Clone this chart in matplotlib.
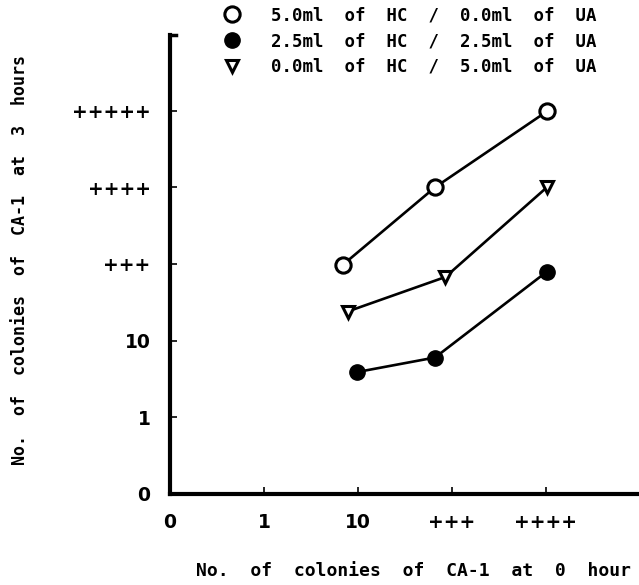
import matplotlib
matplotlib.use("Agg")
from matplotlib import pyplot as plt
from matplotlib.lines import Line2D

# --- Data (category positions on both axes) ---
x_labels = ['0', '1', '10', '+++', '++++']
y_labels = ['0', '1', '10', '+++', '++++', '+++++']

hc5_x = [1.84, 2.82, 4.01]
hc5_y = [2.99, 4.00, 4.99]

hc25_x = [1.99, 2.82, 4.01]
hc25_y = [1.59, 1.78, 2.90]

hc0_x = [1.89, 2.93, 4.01]
hc0_y = [2.38, 2.83, 4.00]

series_labels = ['5.0ml  of  HC  /  0.0ml  of  UA',
                 '2.5ml  of  HC  /  2.5ml  of  UA',
                 '0.0ml  of  HC  /  5.0ml  of  UA']

MONO = 'DejaVu Sans Mono'
plt.rcParams['font.family'] = ['DejaVu Sans']
plt.rcParams['font.weight'] = 'bold'

fig = plt.figure(figsize=(6.39, 5.85), dpi=100)
ax = fig.add_axes([0.266, 0.1556, 0.734, 0.785])

lw = 1.9
ax.plot(hc5_x, hc5_y, color='black', lw=lw, marker='o', ms=11,
        mfc='white', mec='black', mew=2.2, zorder=3)
ax.plot(hc25_x, hc25_y, color='black', lw=lw, marker='o', ms=11,
        mfc='black', mec='black', zorder=3)
ax.plot(hc0_x, hc0_y, color='black', lw=lw, marker='v', ms=9,
        mfc='white', mec='black', mew=2.2, zorder=3)

ax.set_xlim(0, 4.99)
ax.set_ylim(0, 5.99)
ax.set_xticks(range(len(x_labels)))
ax.set_xticklabels(x_labels)
ax.set_yticks(range(len(y_labels)))
ax.set_yticklabels(y_labels)

for s in ['top', 'right']:
    ax.spines[s].set_visible(False)
for s in ['left', 'bottom']:
    ax.spines[s].set_linewidth(3)
ax.tick_params(direction='in', length=5, width=1.2, labelsize=13.5)
ax.tick_params(axis='x', pad=14)
ax.tick_params(axis='y', pad=14)
for t in ax.get_xticklabels() + ax.get_yticklabels():
    t.set_fontweight('bold')

# small hook at the top of the y axis, as in the scan
ax.plot([0, 0.06], [5.99, 5.99], color='black', lw=2.5, clip_on=False)

ax.set_xlabel('No.  of  colonies  of  CA-1  at  0  hour', fontsize=13,
              fontweight='bold', family=MONO)
ax.xaxis.set_label_coords(0.52, -0.148)
ax.set_ylabel('No.  of  colonies  of  CA-1  at  3  hours', fontsize=12,
              fontweight='bold', family=MONO)
ax.yaxis.set_label_coords(-0.30, 0.51)

handles = [
    Line2D([], [], ls='none', marker='o', ms=11, mfc='white', mec='black', mew=2.2),
    Line2D([], [], ls='none', marker='o', ms=11, mfc='black', mec='black'),
    Line2D([], [], ls='none', marker='v', ms=9, mfc='white', mec='black', mew=2.2),
]
leg = fig.legend(handles, series_labels, loc='upper left',
                 bbox_to_anchor=(0.325, 1.016), frameon=False,
                 prop={'size': 12.5, 'weight': 'bold', 'family': MONO},
                 handletextpad=1.75, labelspacing=0.45, handlelength=1.0)

fig.savefig('out.png', dpi=100)
